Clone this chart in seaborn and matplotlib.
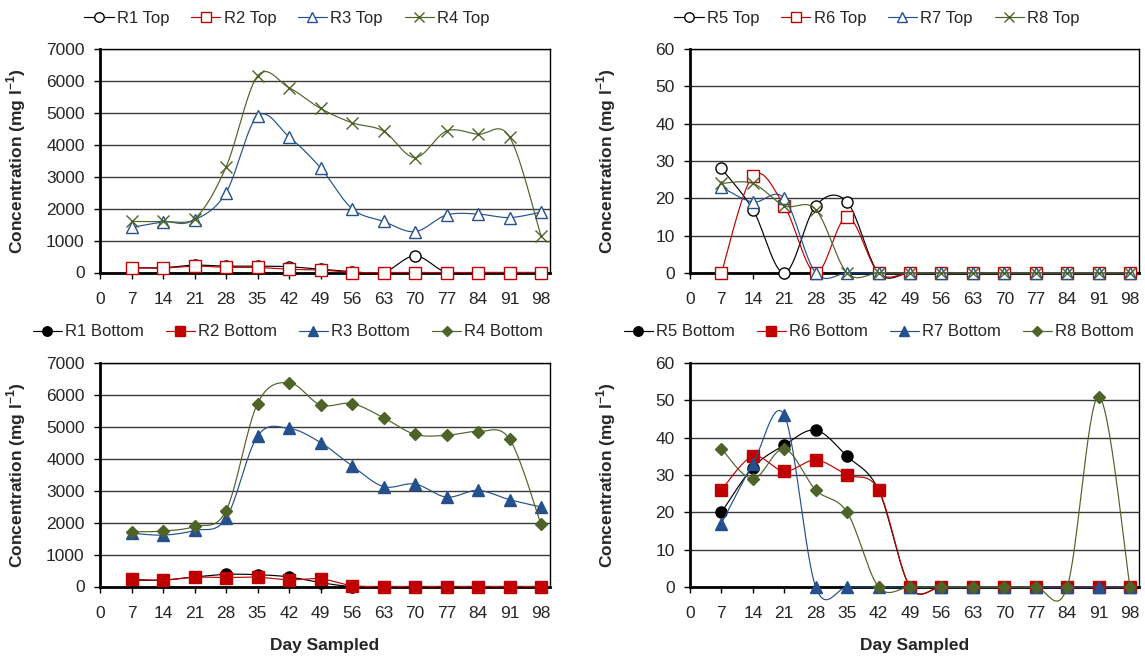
import numpy as np
import pandas as pd
import matplotlib
matplotlib.use('Agg')
import matplotlib.pyplot as plt
from matplotlib.lines import Line2D
import seaborn as sns

days = [7, 14, 21, 28, 35, 42, 49, 56, 63, 70, 77, 84, 91, 98]

# top layer, R1-R4 (mg/l)
r1_top = [150, 150, 230, 200, 200, 180, 100, 30, 0, 520, 0, 0, 0, 0]
r2_top = [150, 140, 200, 160, 160, 100, 80, 0, 0, 0, 0, 0, 0, 0]
r3_top = [1410, 1580, 1650, 2500, 4900, 4250, 3280, 2000, 1600, 1280, 1800, 1830, 1720, 1890]
r4_top = [1600, 1600, 1680, 3300, 6150, 5790, 5140, 4690, 4430, 3600, 4430, 4330, 4250, 1150]

# top layer, R5-R8
r5_top = [28, 17, 0, 18, 19, 0, 0, 0, 0, 0, 0, 0, 0, 0]
r6_top = [0, 26, 18, 0, 15, 0, 0, 0, 0, 0, 0, 0, 0, 0]
r7_top = [23, 19, 20, 0, 0, 0, 0, 0, 0, 0, 0, 0, 0, 0]
r8_top = [24, 24, 18, 17, 0, 0, 0, 0, 0, 0, 0, 0, 0, 0]

# bottom layer, R1-R4
r1_bot = [200, 200, 300, 380, 370, 300, 120, 0, 0, 0, 0, 0, 0, 0]
r2_bot = [230, 200, 290, 280, 290, 210, 240, 30, 0, 0, 0, 0, 0, 0]
r3_bot = [1670, 1610, 1755, 2130, 4710, 4950, 4510, 3780, 3130, 3210, 2800, 3010, 2720, 2490]
r4_bot = [1715, 1735, 1880, 2370, 5730, 6385, 5685, 5730, 5290, 4765, 4735, 4850, 4620, 1945]

# bottom layer, R5-R8
r5_bot = [20, 32, 38, 42, 35, 26, 0, 0, 0, 0, 0, 0, 0, 0]
r6_bot = [26, 35, 31, 34, 30, 26, 0, 0, 0, 0, 0, 0, 0, 0]
r7_bot = [17, 33, 46, 0, 0, 0, 0, 0, 0, 0, 0, 0, 0, 0]
r8_bot = [37, 29, 37, 26, 20, 0, 0, 0, 0, 0, 0, 0, 51, 0]

BLACK = '#000000'
RED = '#C00000'
BLUE = '#24508E'
OLIVE = '#4F6228'


def smooth(x, y, n=30):
    # excel style smoothed line: catmull-rom as cubic bezier
    p = np.column_stack([x, y]).astype(float)
    p = np.vstack([p[0], p, p[-1]])
    out = []
    t = np.linspace(0, 1, n)[:, None]
    for i in range(1, len(p) - 2):
        p0, p1, p2, p3 = p[i - 1], p[i], p[i + 1], p[i + 2]
        c1 = p1 + (p2 - p0) / 6
        c2 = p2 - (p3 - p1) / 6
        seg = ((1 - t) ** 3) * p1 + 3 * ((1 - t) ** 2) * t * c1 + 3 * (1 - t) * t ** 2 * c2 + t ** 3 * p2
        out.append(seg if i == 1 else seg[1:])
    out = np.vstack(out)
    return out[:, 0], out[:, 1]


sns.set_style('white')
plt.rcParams['font.family'] = ['Liberation Sans', 'DejaVu Sans']
plt.rcParams['mathtext.fontset'] = 'custom'
plt.rcParams['mathtext.rm'] = 'Liberation Sans'
plt.rcParams['mathtext.bf'] = 'Liberation Sans:bold'

fig = plt.figure(figsize=(11.45, 6.56), dpi=100)

W, H = 1145, 656
panels = [
    dict(rect=(100, 49, 550, 272.5), ymax=7000, ystep=1000,
         series=[('R1 Top', r1_top, BLACK, 'o', True),
                 ('R2 Top', r2_top, RED, 's', True),
                 ('R3 Top', r3_top, BLUE, '^', True),
                 ('R4 Top', r4_top, OLIVE, 'x', True)],
         legend_x=287, legend_y=18, xlabel=False, ylab_x=28),
    dict(rect=(690, 49, 1139, 273), ymax=60, ystep=10,
         series=[('R5 Top', r5_top, BLACK, 'o', True),
                 ('R6 Top', r6_top, RED, 's', True),
                 ('R7 Top', r7_top, BLUE, '^', True),
                 ('R8 Top', r8_top, OLIVE, 'x', True)],
         legend_x=877, legend_y=18, xlabel=False, ylab_x=618),
    dict(rect=(100, 363, 550, 586.5), ymax=7000, ystep=1000,
         series=[('R1 Bottom', r1_bot, BLACK, 'o', False),
                 ('R2 Bottom', r2_bot, RED, 's', False),
                 ('R3 Bottom', r3_bot, BLUE, '^', False),
                 ('R4 Bottom', r4_bot, OLIVE, 'D', False)],
         legend_x=288, legend_y=332, xlabel=True, ylab_x=28),
    dict(rect=(690, 363, 1139, 587), ymax=60, ystep=10,
         series=[('R5 Bottom', r5_bot, BLACK, 'o', False),
                 ('R6 Bottom', r6_bot, RED, 's', False),
                 ('R7 Bottom', r7_bot, BLUE, '^', False),
                 ('R8 Bottom', r8_bot, OLIVE, 'D', False)],
         legend_x=879, legend_y=332, xlabel=True, ylab_x=618),
]

msize = {'o': 8, 's': 8, '^': 8.5, 'x': 8, 'D': 6.5}

for pn in panels:
    x0, y0, x1, y1 = pn['rect']
    ax = fig.add_axes([x0 / W, 1 - y1 / H, (x1 - x0) / W, (y1 - y0) / H])
    handles = []
    for k, (name, vals, col, mk, hollow) in enumerate(pn['series']):
        sx, sy = smooth(days, vals)
        curve = pd.DataFrame({'day': sx, 'conc': sy})
        sns.lineplot(data=curve, x='day', y='conc', ax=ax, color=col, lw=0.85,
                     sort=False, estimator=None, clip_on=False, zorder=3 + k)
        if mk == 'x':
            fc = col
        else:
            fc = 'white' if hollow else col
        ax.plot(days, vals, ls='none', marker=mk, ms=msize[mk], mfc=fc, mec=col,
                mew=1.0, clip_on=False, zorder=3 + k)
        handles.append(Line2D([], [], color=col, lw=0.85, marker=mk, ms=msize[mk] * 0.85,
                              mfc=fc, mec=col, mew=1.0, label=name))

    ax.set_xlim(0, 100)
    ax.set_ylim(0, pn['ymax'])
    ax.set_xticks([0] + days)
    ax.set_yticks(np.arange(0, pn['ymax'] + 1, pn['ystep']))
    ax.yaxis.grid(True, color='#3a3a3a', lw=1.0)
    ax.set_axisbelow(True)
    for s in ax.spines.values():
        s.set_color('black')
        s.set_linewidth(1.0)
    ax.spines['bottom'].set_linewidth(2.0)
    ax.spines['left'].set_linewidth(2.0)
    ax.tick_params(axis='x', direction='out', length=4, width=1, pad=10,
                   labelsize=12.5, bottom=True, color='black')
    ax.tick_params(axis='y', direction='out', length=4, width=1, pad=7,
                   labelsize=12.5, left=True, color='black')
    ax.set_ylabel(r'Concentration (mg l$^{\mathbf{-1}}$)', fontsize=12.5, fontweight='bold')
    ax.yaxis.set_label_coords((pn['ylab_x'] - x0) / (x1 - x0), 0.5)
    if pn['xlabel']:
        ax.set_xlabel('Day Sampled', fontsize=12.5, fontweight='bold')
        ax.xaxis.set_label_coords(0.5, (y1 - 638) / (y1 - y0))
    else:
        ax.set_xlabel('')

    fig.legend(handles=handles, loc='center', ncol=4, frameon=False,
               bbox_to_anchor=(pn['legend_x'] / W, 1 - pn['legend_y'] / H),
               fontsize=12, handlelength=1.75, handletextpad=0.2, columnspacing=1.3)

fig.savefig('out.png', dpi=100)
